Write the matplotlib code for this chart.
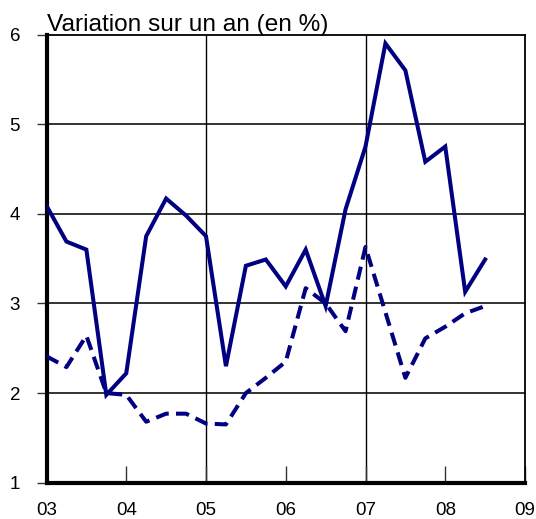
import matplotlib.pyplot as plt

# données trimestrielles, 2003T1 -> 2008T3
annees = [2003 + i * 0.25 for i in range(23)]
serie_pleine = [4.09, 3.69, 3.60, 1.98, 2.22, 3.75, 4.17, 3.98, 3.75, 2.30, 3.42, 3.49,
                3.19, 3.60, 2.97, 4.05, 4.75, 5.90, 5.60, 4.58, 4.75, 3.13, 3.49]
serie_tirets = [2.41, 2.29, 2.64, 2.00, 1.98, 1.68, 1.77, 1.77, 1.66, 1.65, 2.00, 2.17,
                2.35, 3.17, 3.00, 2.69, 3.63, 2.90, 2.17, 2.61, 2.74, 2.89, 2.97]
ticks_x = [2003, 2004, 2005, 2006, 2007, 2008, 2009]
labels_x = ['03', '04', '05', '06', '07', '08', '09']
ticks_y = [1, 2, 3, 4, 5, 6]

plt.rcParams['font.family'] = ['Liberation Sans', 'DejaVu Sans']

fig = plt.figure(figsize=(5.36, 5.19), dpi=100)
ax = fig.add_axes([46.5 / 536, 1 - 482.7 / 519, (525 - 46.5) / 536, (482.7 - 34.5) / 519])

# grille
for y in [2, 3, 4, 5]:
    ax.axhline(y, color='#333333', lw=1.4, zorder=1)
for x in [2005, 2007]:
    ax.axvline(x, color='black', lw=1.0, zorder=1)

# courbes
ax.plot(annees, serie_pleine, color='#000080', lw=2.9, zorder=3, solid_joinstyle='miter')
ax.plot(annees, serie_tirets, color='#000080', lw=2.9, linestyle=(0, (3.3, 1.8)), zorder=3)

ax.set_xlim(2003, 2009)
ax.set_ylim(1, 6)
ax.set_xticks(ticks_x)
ax.set_xticklabels(labels_x)
ax.set_yticks(ticks_y)
ax.tick_params(axis='x', direction='in', length=12, width=1, pad=14, labelsize=13.5, color='#333333')
ax.tick_params(axis='y', direction='out', length=7, width=1, pad=12, labelsize=13.5, color='#333333')

ax.spines['left'].set_linewidth(3)
ax.spines['bottom'].set_linewidth(3)
ax.spines['top'].set_linewidth(1.3)
ax.spines['right'].set_linewidth(1.3)

fig.text(47 / 536, 1 - 31 / 519, 'Variation sur un an (en %)', fontsize=17.6, va='baseline', ha='left')

fig.savefig('out.png', dpi=100)
